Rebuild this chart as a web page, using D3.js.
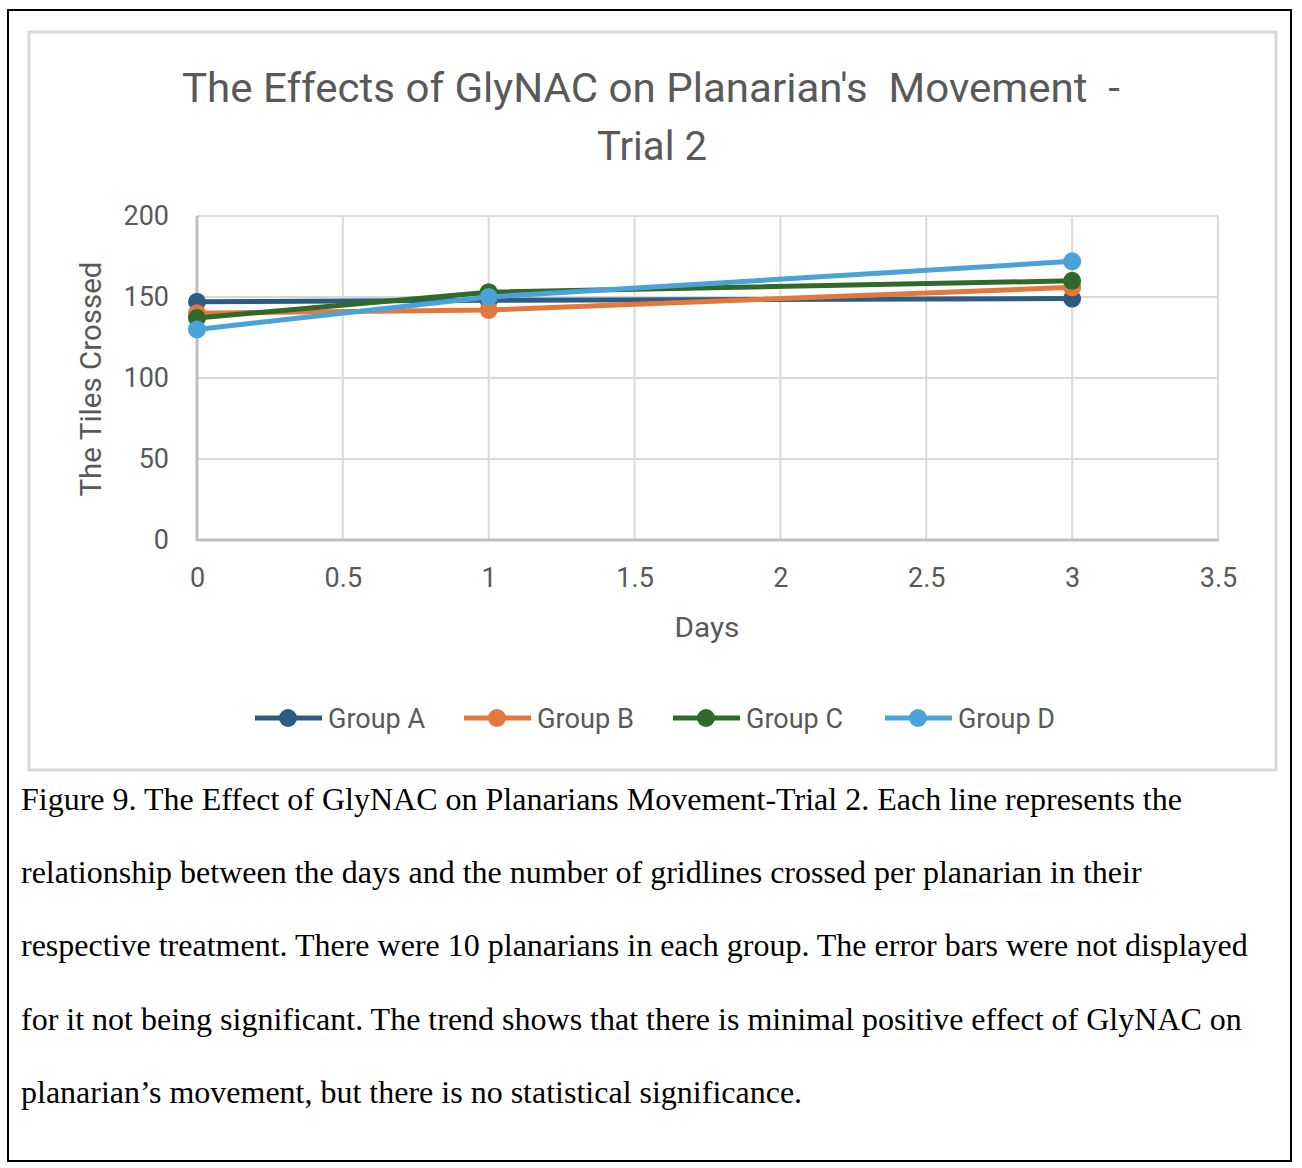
<!DOCTYPE html>
<html><head><meta charset="utf-8">
<script src="https://cdn.jsdelivr.net/npm/d3@7/dist/d3.min.js"></script>
<style>body{margin:0;background:#fff}svg{display:block}</style>
</head><body>
<script>
const days = [0, 1, 3];
const seriesNames = ["Group A", "Group B", "Group C", "Group D"];
const groupA = [147, 148, 149];
const groupB = [140, 142, 156];
const groupC = [137, 153, 160];
const groupD = [130, 150, 172];
const seriesColors = ["#2E5C80", "#E3783A", "#2F6A2A", "#4AA3D8"];
const xTicks = [0, 0.5, 1, 1.5, 2, 2.5, 3, 3.5];
const yTicks = [0, 50, 100, 150, 200];
const titleLines = ["The Effects of GlyNAC on Planarian's  Movement  -", "Trial 2"];
const captionLines = [
  "Figure 9. The Effect of GlyNAC on Planarians Movement-Trial 2. Each line represents the",
  "relationship between the days and the number of gridlines crossed per planarian in their",
  "respective treatment. There were 10 planarians in each group. The error bars were not displayed",
  "for it not being significant. The trend shows that there is minimal positive effect of GlyNAC on",
  "planarian\u2019s movement, but there is no statistical significance."
];
const allSeries = [groupA, groupB, groupC, groupD];

const W = 1302, H = 1168;
const svg = d3.select("body").append("svg").attr("width", W).attr("height", H);
svg.append("rect").attr("width", W).attr("height", H).attr("fill", "#fff");
svg.append("rect").attr("x", 8).attr("y", 10).attr("width", 1283).attr("height", 1151)
  .attr("fill", "none").attr("stroke", "#000").attr("stroke-width", 2);
svg.append("rect").attr("x", 29).attr("y", 32).attr("width", 1247).attr("height", 738)
  .attr("fill", "#fff").attr("stroke", "#d9d9d9").attr("stroke-width", 3);

const sans = "Roboto, 'Open Sans', sans-serif";
const grey = "#595959";

const tl = svg.append("g");
tl.append("text").attr("x", 651).attr("y", 102).attr("text-anchor", "middle")
  .attr("font-family", sans).attr("font-size", 40).attr("fill", grey).style("white-space", "pre")
  .attr("textLength", 938).attr("lengthAdjust", "spacingAndGlyphs").text(titleLines[0]);
tl.append("text").attr("x", 652).attr("y", 160).attr("text-anchor", "middle")
  .attr("font-family", sans).attr("font-size", 40).attr("fill", grey)
  .attr("textLength", 110).attr("lengthAdjust", "spacingAndGlyphs").text(titleLines[1]);

const x = d3.scaleLinear().domain([0, 3.5]).range([197, 1218]);
const y = d3.scaleLinear().domain([0, 200]).range([540, 216]);

const g = svg.append("g");
g.selectAll(".vg").data(xTicks.filter(d => d > 0)).join("line")
  .attr("x1", d => x(d)).attr("x2", d => x(d)).attr("y1", y(200)).attr("y2", y(0))
  .attr("stroke", "#d9d9d9").attr("stroke-width", 2);
g.selectAll(".hg").data(yTicks.filter(d => d > 0)).join("line")
  .attr("x1", x(0)).attr("x2", x(3.5)).attr("y1", d => y(d)).attr("y2", d => y(d))
  .attr("stroke", "#d9d9d9").attr("stroke-width", 2);
g.append("line").attr("x1", x(0)).attr("x2", x(0)).attr("y1", y(200)).attr("y2", y(0)+1)
  .attr("stroke", "#bfbfbf").attr("stroke-width", 3);
g.append("line").attr("x1", x(0)-1).attr("x2", x(3.5)+1).attr("y1", y(0)).attr("y2", y(0))
  .attr("stroke", "#bfbfbf").attr("stroke-width", 3);

const xAxis = svg.append("g").attr("transform", `translate(0,${y(0)})`)
  .call(d3.axisBottom(x).tickValues(xTicks).tickSize(0).tickPadding(28).tickFormat(d3.format("")));
xAxis.select(".domain").remove();
xAxis.selectAll("text").attr("font-family", sans).attr("font-size", 27).attr("fill", grey);
const yAxis = svg.append("g").attr("transform", `translate(${x(0)},0)`)
  .call(d3.axisLeft(y).tickValues(yTicks).tickSize(0).tickPadding(28));
yAxis.select(".domain").remove();
yAxis.selectAll("text").attr("font-family", sans).attr("font-size", 27).attr("fill", grey).attr("dy", "0.3em");

svg.append("text").attr("x", 707).attr("y", 637).attr("text-anchor", "middle")
  .attr("font-family", sans).attr("font-size", 28).attr("fill", grey)
  .attr("textLength", 65).attr("lengthAdjust", "spacingAndGlyphs").text("Days");
svg.append("text").attr("transform", "translate(101,379) rotate(-90)").attr("text-anchor", "middle")
  .attr("font-family", sans).attr("font-size", 29).attr("fill", grey)
  .attr("textLength", 235).attr("lengthAdjust", "spacingAndGlyphs").text("The Tiles Crossed");

const line = d3.line().x((d, i) => x(days[i])).y(d => y(d));
allSeries.forEach((s, k) => {
  svg.append("path").datum(s).attr("d", line).attr("fill", "none")
    .attr("stroke", seriesColors[k]).attr("stroke-width", 5).attr("stroke-linejoin", "round");
});
allSeries.forEach((s, k) => {
  svg.selectAll(null).data(s).join("circle")
    .attr("cx", (d, i) => x(days[i])).attr("cy", d => y(d)).attr("r", 9)
    .attr("fill", seriesColors[k]);
});

const legX = [255, 464, 673, 885];
const leg = svg.append("g");
seriesNames.forEach((n, k) => {
  const lg = leg.append("g").attr("transform", `translate(${legX[k]},718)`);
  lg.append("line").attr("x1", 0).attr("x2", 67).attr("y1", 0).attr("y2", 0)
    .attr("stroke", seriesColors[k]).attr("stroke-width", 5);
  lg.append("circle").attr("cx", 33).attr("cy", 0).attr("r", 9).attr("fill", seriesColors[k]);
  lg.append("text").attr("x", 73).attr("y", 10).attr("font-family", sans).attr("font-size", 27)
    .attr("fill", grey).attr("textLength", 97).attr("lengthAdjust", "spacingAndGlyphs").text(n);
});

const cap = svg.append("g");
captionLines.forEach((t, i) => {
  cap.append("text").attr("x", 21).attr("y", 810 + i * 73.2)
    .attr("font-family", "'Liberation Serif', 'Times New Roman', serif").attr("font-size", 32)
    .attr("fill", "#000").text(t);
});
</script>
</body></html>
